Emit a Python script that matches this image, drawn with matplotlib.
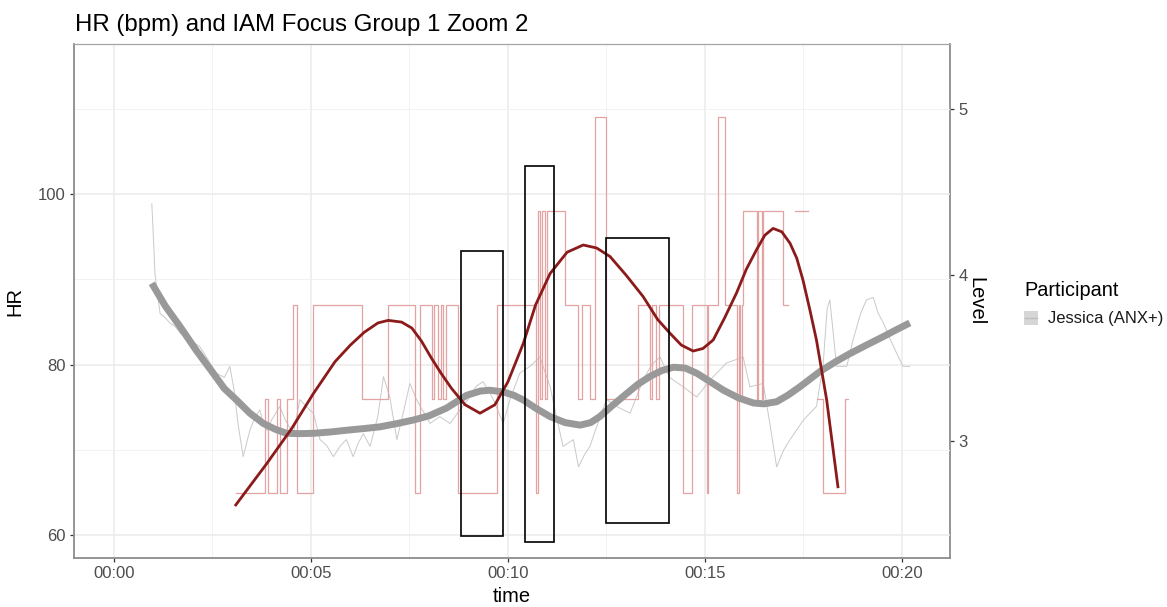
import numpy as np
import matplotlib
matplotlib.use("Agg")
import matplotlib.pyplot as plt
from matplotlib.patches import Rectangle
from matplotlib.lines import Line2D
from matplotlib.ticker import FuncFormatter, MultipleLocator, FixedLocator

plt.rcParams['font.family'] = ['Liberation Sans', 'DejaVu Sans']

# ---- data -------------------------------------------------------------
participant = "Jessica (ANX+)"

# Raw heart rate (minutes into session, bpm)
hr_time = [0.96, 1.00, 1.04, 1.10, 1.17, 1.30, 1.42, 1.55, 1.68, 1.90, 2.18,
           2.40, 2.60, 2.80, 2.94, 3.05, 3.15, 3.28, 3.35, 3.45, 3.55, 3.70,
           3.80, 3.88, 4.00, 4.21, 4.35, 4.55, 4.72, 4.90, 5.06, 5.23, 5.40,
           5.57, 5.75, 5.90, 6.07, 6.20, 6.33, 6.50, 6.70, 6.84, 7.00, 7.18,
           7.34, 7.51, 7.68, 7.85, 8.02, 8.27, 8.53, 8.75, 9.00, 9.20, 9.37,
           9.63, 9.88, 10.05, 10.30, 10.56, 10.81, 11.07, 11.25, 11.40, 11.66,
           11.79, 11.95, 12.08, 12.25, 12.50, 12.80, 13.10, 13.43, 13.65,
           13.86, 14.10, 14.45, 14.79, 15.13, 15.55, 15.97, 16.14, 16.48,
           16.65, 16.82, 17.00, 17.16, 17.50, 17.83, 18.00, 18.10, 18.17,
           18.25, 18.34, 18.60, 18.76, 18.95, 19.10, 19.27, 19.40, 19.53,
           19.70, 19.87, 20.03, 20.20]
hr_bpm = [98.9, 95.0, 90.7, 88.5, 86.0, 85.5, 84.9, 84.5, 83.7, 83.0, 82.1,
          80.5, 79.0, 78.5, 79.8, 77.0, 73.0, 69.2, 70.5, 72.3, 73.5, 74.7,
          73.0, 72.3, 73.5, 75.1, 73.5, 71.9, 75.9, 75.0, 74.3, 71.2, 70.5,
          69.2, 70.5, 71.2, 69.2, 70.8, 71.9, 70.4, 74.0, 78.6, 76.2, 71.2,
          74.3, 77.8, 75.9, 74.5, 73.1, 73.9, 73.1, 74.5, 76.0, 77.5, 78.0,
          75.9, 73.1, 75.9, 79.0, 79.8, 80.9, 77.4, 73.5, 70.4, 71.2,
          68.0, 69.5, 70.4, 72.7, 75.9, 75.0, 74.3, 78.2, 80.0,
          80.9, 78.5, 77.4, 76.2, 78.2, 80.2, 80.9, 77.4, 77.8,
          73.0, 68.0, 70.0, 71.2, 73.5, 75.1, 80.0, 86.5, 87.6,
          84.0, 79.8, 79.8, 82.9, 86.0, 87.6, 87.9, 86.0, 84.9,
          83.0, 81.3, 79.8, 79.8]

# Smoothed heart rate trend
hr_smooth_time = [0.96, 1.30, 1.68, 2.10, 2.52, 2.80, 3.11, 3.45, 3.79, 4.10,
                  4.38, 4.70, 5.06, 5.50, 5.90, 6.35, 6.75, 7.20, 7.60, 8.00,
                  8.44, 8.95, 9.30, 9.54, 9.88, 10.15, 10.39, 10.70, 11.07,
                  11.45, 11.83, 12.10, 12.33, 12.65, 13.01, 13.30, 13.60,
                  13.90, 14.20, 14.50, 14.79, 15.10, 15.47, 15.85, 16.23,
                  16.50, 16.82, 17.10, 17.41, 17.92, 18.30, 18.68, 19.10,
                  19.53, 19.90, 20.20]
hr_smooth_bpm = [89.55, 86.9, 84.45, 81.6, 78.98, 77.2, 75.85, 74.3, 73.1, 72.4,
                 71.94, 71.9, 71.94, 72.1, 72.3, 72.5, 72.7, 73.1, 73.5, 74.0,
                 74.9, 76.4, 76.9, 77.0, 76.8, 76.4, 75.85, 74.9, 73.9,
                 73.2, 72.9, 73.2, 73.9, 75.2, 76.6, 77.7, 78.6,
                 79.3, 79.7, 79.6, 79.0, 78.1, 77.0, 76.1, 75.5,
                 75.4, 75.65, 76.4, 77.4, 79.2, 80.3, 81.3, 82.3,
                 83.3, 84.2, 84.9]

# IAM self-report rating (1-5); NaN marks gaps in the record
iam_time = [3.10, 3.83, 3.92, 4.13, 4.21, 4.38, 4.55, 4.64, 5.06, 6.29, 6.96,
            7.64, 7.77, 8.06, 8.12, 8.23, 8.30, 8.36, 8.42, 8.74, 9.71, 10.71,
            10.75, 10.81, 10.86, 10.94, 10.99, 11.45, 11.79, 11.87, 12.08,
            12.21, 12.49, 13.31, 13.60, 13.65, 13.77, 13.84, 14.45, 14.66,
            15.04, 15.08, 15.34, 15.51, 15.82, 15.86, 15.89, 15.93, 15.97,
            16.31, 16.35, 16.44, 16.48, 16.99, 17.10, 17.28, 17.62, 17.84,
            18.00, 18.55, 18.62]
iam_rating = [1, 2, 1, 2, 1, 2, 3, 1, 3, 2, 3,
              1, 3, 2, 3, 2, 3, 2, 3, 1, 3, 1,
              4, 2, 4, 2, 4, 3, 2, 3, 2,
              5, 2, 3, 2, 3, 2, 3, 1, 3,
              1, 3, 5, 3, 1, 3, 2, 3, 4,
              2, 4, 2, 4, 3, np.nan, 4, np.nan, 2,
              1, 2, 2]

# Smoothed IAM trend, expressed on the HR scale
iam_smooth_time = [3.07, 3.88, 4.51, 5.06, 5.61, 6.00, 6.35, 6.70, 6.96, 7.30,
                   7.56, 7.80, 8.06, 8.30, 8.57, 8.91, 9.29, 9.67, 10.00,
                   10.39, 10.70, 11.07, 11.50, 11.91, 12.25, 12.59, 13.00,
                   13.43, 13.80, 14.11, 14.40, 14.70, 14.95, 15.21, 15.50,
                   15.80, 16.05, 16.31, 16.52, 16.73, 16.95, 17.16, 17.33,
                   17.49, 17.66, 17.83, 18.09, 18.38]
iam_smooth_hr = [63.4, 68.4, 72.5, 76.6, 80.35, 82.3, 83.8, 84.9, 85.2, 85.0,
                 84.3, 82.8, 80.75, 79.0, 77.2, 75.3, 74.3, 75.3, 78.0,
                 82.5, 87.0, 90.7, 93.2, 94.05, 93.7, 92.7, 90.5,
                 88.0, 85.3, 83.7, 82.3, 81.6, 81.9, 82.9, 85.5,
                 88.4, 91.2, 93.5, 95.2, 96.0, 95.6, 94.25, 92.5,
                 89.9, 86.5, 82.9, 75.85, 65.5]

# Highlighted episodes (minutes, bpm)
episode_start = [8.82, 10.43, 12.48]
episode_end = [9.87, 11.17, 14.09]
episode_low = [59.9, 59.2, 61.4]
episode_high = [93.3, 103.3, 94.9]


def rating_to_hr(r):
    return 53.9 + 11.04 * np.asarray(r, dtype=float)


def hr_to_level(h):
    return (np.asarray(h, dtype=float) - 12.5) / 19.5


def level_to_hr(l):
    return np.asarray(l, dtype=float) * 19.5 + 12.5


# ---- figure -----------------------------------------------------------
W, H = 1167, 607
fig = plt.figure(figsize=(W / 100, H / 100), dpi=100)
ax = fig.add_axes([74 / W, 1 - 558 / H, (950 - 74) / W, (558 - 44) / H])

ax.set_xlim(-1.015, 21.22)
ax.set_ylim(57.3, 117.65)

# grid
ax.xaxis.set_major_locator(MultipleLocator(5))
ax.xaxis.set_minor_locator(FixedLocator([2.5, 7.5, 12.5, 17.5]))
ax.yaxis.set_major_locator(FixedLocator([60, 80, 100]))
ax.yaxis.set_minor_locator(FixedLocator([70, 90, 110]))
ax.grid(which='major', color='#ebebeb', lw=1.1, zorder=0)
ax.grid(which='minor', color='#f2f2f2', lw=0.7, zorder=0)
ax.set_axisbelow(True)

ax.plot(hr_time, hr_bpm, color='#c9c9c9', lw=0.7, zorder=2)
ax.step(iam_time, rating_to_hr(iam_rating), where='post',
        color='#e4a3a3', lw=0.9, zorder=3)
ax.plot(hr_smooth_time, hr_smooth_bpm, color='#999999', lw=5.0,
        solid_capstyle='butt', solid_joinstyle='round', zorder=4)
ax.plot(iam_smooth_time, iam_smooth_hr, color='#8b1a1a', lw=2.0,
        solid_capstyle='butt', solid_joinstyle='round', zorder=5)

for s, e, lo, hi in zip(episode_start, episode_end, episode_low, episode_high):
    ax.add_patch(Rectangle((s, lo), e - s, hi - lo, fill=False,
                           edgecolor='black', lw=1.2, zorder=6))

# axes styling
ax.xaxis.set_major_formatter(FuncFormatter(lambda v, p: f"00:{int(round(v)):02d}"))
ax.tick_params(which='major', length=3, width=0.9, color='#333333',
               labelcolor='#4d4d4d', labelsize=12, pad=3)
ax.tick_params(which='minor', length=0)
for side in ('left', 'bottom'):
    ax.spines[side].set_color('#8c8c8c')
    ax.spines[side].set_linewidth(1.3)
ax.spines['top'].set_color('#a6a6a6')
ax.spines['top'].set_linewidth(0.9)
ax.spines['right'].set_visible(False)

ax.set_xlabel('time', fontsize=14.5, labelpad=4)
ax.set_ylabel('HR', fontsize=14.5, labelpad=10)

sec = ax.secondary_yaxis('right', functions=(hr_to_level, level_to_hr))
sec.set_yticks([3, 4, 5])
sec.tick_params(length=3, width=0.9, color='#333333', labelcolor='#4d4d4d',
                labelsize=12, pad=3)
sec.spines['right'].set_color('#8c8c8c')
sec.spines['right'].set_linewidth(1.3)
sec.set_ylabel('Level', fontsize=14.5, rotation=270, labelpad=13)

fig.text(75 / W, 1 - 31 / H, 'HR (bpm) and IAM Focus Group 1 Zoom 2',
         fontsize=17.3, ha='left', va='baseline')

# legend
fig.text(1024 / W, 1 - 290 / H, 'Participant', fontsize=14.3,
         ha='left', va='center')
fig.patches.append(Rectangle((1024 / W, 1 - 325 / H), 14 / W, 14 / H,
                             transform=fig.transFigure, facecolor='#d6d6d6',
                             edgecolor='none'))
fig.lines.append(Line2D([1025 / W, 1037 / W], [1 - 318 / H, 1 - 318 / H],
                        transform=fig.transFigure, color='#bdbdbd', lw=1.0))
fig.text(1048 / W, 1 - 318 / H, participant, fontsize=12,
         ha='left', va='center', color='#1a1a1a')

fig.savefig('out.png', dpi=100)
